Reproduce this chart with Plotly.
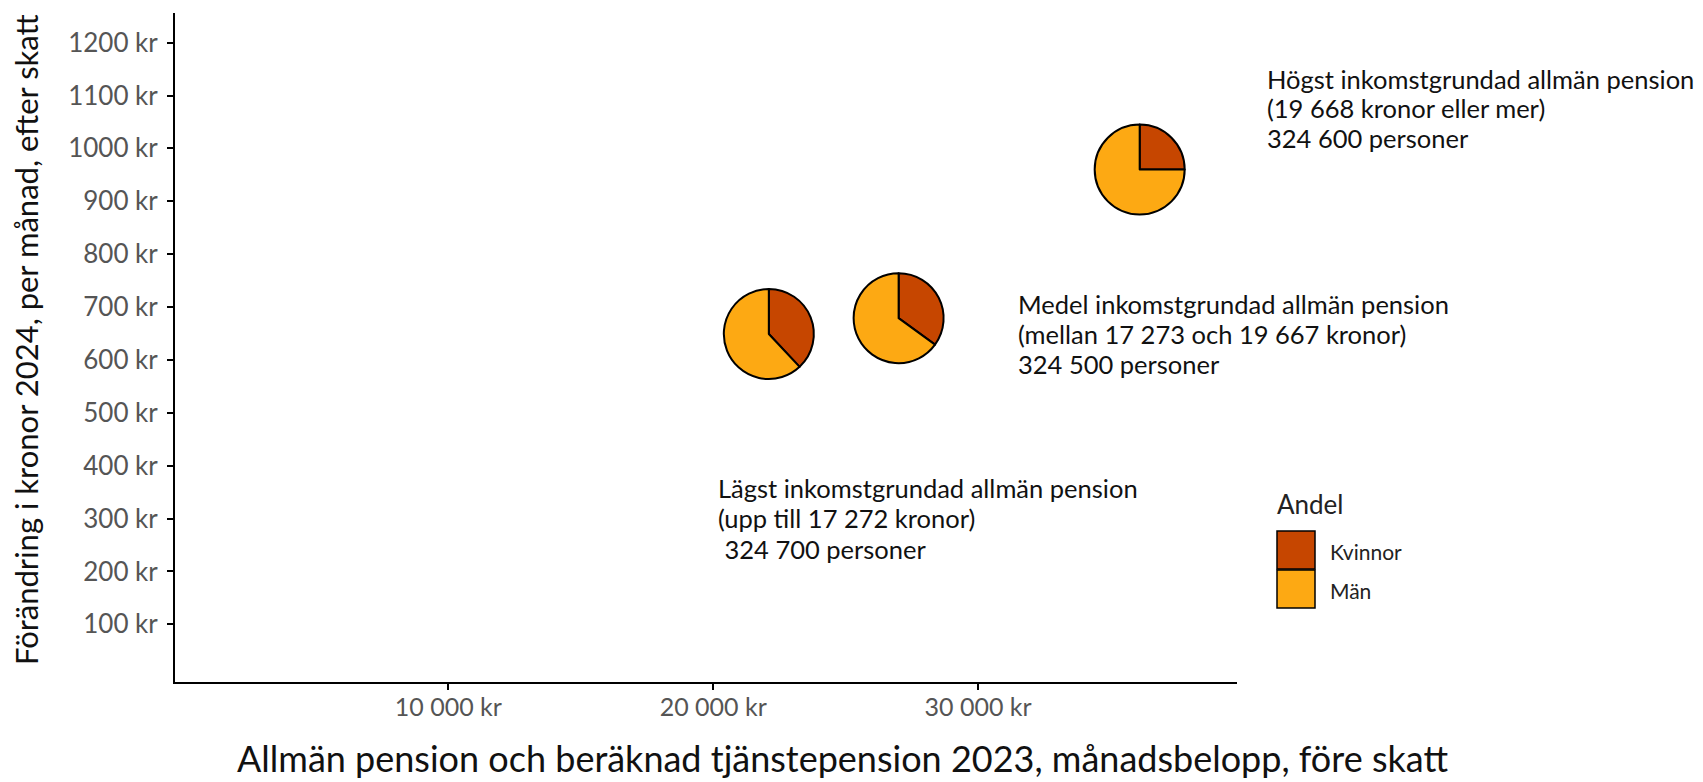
import plotly.graph_objects as go

# ---------------- data ----------------
group_names = ["Lägst", "Medel", "Högst"]
pension_2023 = [22100, 27000, 36100]          # x: monthly pension before tax (kr)
change_2024 = [649, 679, 960]                 # y: change per month after tax (kr)
share_kvinnor = [38, 35, 25]                  # % women
share_man = [62, 65, 75]                      # % men
sex_labels = ["Kvinnor", "Män"]

group_label_lines = [
    ["Lägst inkomstgrundad allmän pension", "(upp till 17 272 kronor)", " 324 700 personer"],
    ["Medel inkomstgrundad allmän pension", "(mellan 17 273 och 19 667 kronor)", "324 500 personer"],
    ["Högst inkomstgrundad allmän pension", "(19 668 kronor eller mer)", "324 600 personer"],
]

x_tick_vals = [10000, 20000, 30000]
x_tick_text = ["10 000 kr", "20 000 kr", "30 000 kr"]
y_tick_vals = [100, 200, 300, 400, 500, 600, 700, 800, 900, 1000, 1100, 1200]
y_tick_text = ["100 kr", "200 kr", "300 kr", "400 kr", "500 kr", "600 kr", "700 kr",
               "800 kr", "900 kr", "1000 kr", "1100 kr", "1200 kr"]

x_title = "Allmän pension och beräknad tjänstepension 2023, månadsbelopp, före skatt"
y_title = "Förändring i kronor 2024, per månad, efter skatt"
legend_title = "Andel"

# ---------------- layout constants ----------------
W, H = 1703, 782
PL, PR, PT, PB = 175, 1237, 13, 682
XR = [-317, 39774]
YR = [-9, 1256]
R = 45  # pie radius in px
COL_K = "#C64600"
COL_M = "#FDA913"
FONT = "Lato"


def px_x(v):
    return PL + (v - XR[0]) / (XR[1] - XR[0]) * (PR - PL)


def px_y(v):
    return PB - (v - YR[0]) / (YR[1] - YR[0]) * (PB - PT)


def fx(p):  # pixel -> paper (paper spans the plot area)
    return (p - PL) / (PR - PL)


def fy(p):
    return (PB - p) / (PB - PT)


fig = go.Figure()

# invisible anchor points so the cartesian axes exist
fig.add_trace(go.Scatter(x=pension_2023, y=change_2024, mode="markers",
                         marker=dict(opacity=0), showlegend=False, hoverinfo="skip"))

for i in range(len(group_names)):
    cx, cy = px_x(pension_2023[i]), px_y(change_2024[i])
    fig.add_trace(go.Pie(
        labels=sex_labels,
        values=[share_kvinnor[i], share_man[i]],
        sort=False, direction="clockwise", rotation=0,
        marker=dict(colors=[COL_K, COL_M], line=dict(color="black", width=2)),
        textinfo="none", showlegend=False,
        domain=dict(x=[fx(cx - R), fx(cx + R)], y=[fy(cy + R), fy(cy - R)]),
        name=group_names[i],
    ))

annotations = []
# group labels: left edge px, first baseline px, line spacing px
LBL_SIZE = 25.5
label_pos = [(716, 497, 30.5), (1016, 313, 30), (1265, 88, 29.5)]
for (lx, ly, sp), lines in zip(label_pos, group_label_lines):
    for k, line in enumerate(lines):
        base = ly + k * sp
        annotations.append(dict(text=line, x=fx(lx), y=fy(base - 0.36 * LBL_SIZE),
                                xref="paper", yref="paper",
                                xanchor="left", yanchor="middle", align="left", showarrow=False,
                                font=dict(family=FONT, size=LBL_SIZE, color="#111111")))

# axis titles
annotations.append(dict(text=x_title, x=fx(842), y=fy(758), xref="paper", yref="paper",
                        xanchor="center", yanchor="middle", showarrow=False,
                        font=dict(family=FONT, size=36, color="#111111")))
annotations.append(dict(text=y_title, x=fx(26), y=fy(340), xref="paper", yref="paper",
                        xanchor="center", yanchor="middle", showarrow=False, textangle=-90,
                        font=dict(family=FONT, size=31, color="#111111")))

# custom legend
annotations.append(dict(text=legend_title, x=fx(1275), y=fy(504), xref="paper", yref="paper",
                        xanchor="left", yanchor="middle", showarrow=False,
                        font=dict(family=FONT, size=26, color="#222222")))
shapes = []
for j, (lab, col) in enumerate(zip(sex_labels, [COL_K, COL_M])):
    y0 = 531 + j * 39
    shapes.append(dict(type="rect", xref="paper", yref="paper",
                       x0=fx(1277), x1=fx(1315), y0=fy(y0 + 38), y1=fy(y0),
                       fillcolor=col, line=dict(color="black", width=1.5)))
    annotations.append(dict(text=lab, x=fx(1328), y=fy(y0 + 20), xref="paper", yref="paper",
                            xanchor="left", yanchor="middle", showarrow=False,
                            font=dict(family=FONT, size=21, color="#222222")))

axis_common = dict(showline=True, linecolor="black", linewidth=2, ticks="outside", ticklen=6,
                   tickwidth=1.5, tickcolor="black", showgrid=False, zeroline=False)

fig.update_layout(
    width=W, height=H,
    margin=dict(l=PL, r=W - PR, t=PT, b=H - PB, autoexpand=False),
    paper_bgcolor="white", plot_bgcolor="white",
    showlegend=False,
    xaxis=dict(range=XR, tickvals=x_tick_vals, ticktext=x_tick_text, ticklabelstandoff=-4,
               tickfont=dict(family=FONT, size=25, color="#555555"), **axis_common),
    yaxis=dict(range=YR, tickvals=y_tick_vals, ticktext=y_tick_text, ticklabelstandoff=4,
               tickfont=dict(family=FONT, size=26, color="#555555"), **axis_common),
    annotations=annotations, shapes=shapes,
)

fig.write_html("out.html", config={"displayModeBar": False},
               post_script="document.body.style.margin='0';")
